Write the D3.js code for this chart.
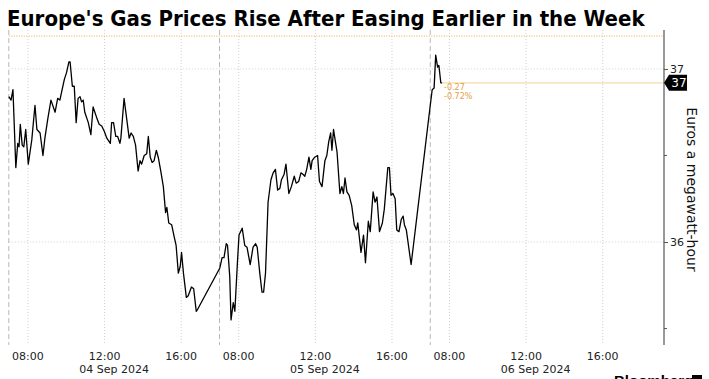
<!DOCTYPE html>
<html><head><meta charset="utf-8">
<script src="https://cdn.jsdelivr.net/npm/d3@7"></script>
<style>body{margin:0;background:#fff} svg{display:block}</style>
</head><body><svg id="c" width="709" height="379"></svg>
<script>
const title = "Europe's Gas Prices Rise After Easing Earlier in the Week";
const yTitle = "Euros a megawatt-hour";
const sessionDates = ["2024-09-04", "2024-09-05", "2024-09-06"];
const dateLabels = ["04 Sep 2024", "05 Sep 2024", "06 Sep 2024"];
const hourTicks = ["08:00", "12:00", "16:00"];
const yTicks = [36, 37];
const yMinorTicks = [35.5, 36.5];
const prevClose = 37.19;
const lastLabel = "37";
const changeLabels = ["-0.27", "-0.72%"];

const day1Times = ["07:00","07:07","07:13","07:22","07:28","07:32","07:36","07:42","07:47","07:53",
  "08:01","08:12","08:22","08:28","08:38","08:47","08:53","09:02","09:12","09:25",
  "09:33","09:40","09:47","09:54","10:01","10:08","10:12","10:19","10:25","10:31",
  "10:37","10:43","10:48","10:53","10:58","11:09","11:17","11:24","11:35","11:43",
  "11:51","11:59","12:07","12:18","12:22","12:28","12:35","12:41","12:48","12:51",
  "13:01","13:17","13:23","13:30","13:37","13:45","13:51","13:56","14:04","14:12",
  "14:17","14:23","14:29","14:35","14:42","14:48","14:56","15:04","15:11","15:15",
  "15:21","15:30","15:38","15:44","15:51","15:57","16:01","16:07","16:16","16:22",
  "16:32","16:39","16:47","16:51"];
const day1Prices = [36.84,36.82,36.88,36.43,36.57,36.55,36.68,36.56,36.55,36.65,
  36.45,36.59,36.79,36.65,36.63,36.50,36.60,36.71,36.82,36.75,
  36.83,36.82,36.88,36.94,36.98,37.04,37.04,36.90,36.90,36.69,
  36.83,36.84,36.81,36.82,36.75,36.69,36.62,36.78,36.72,36.68,
  36.67,36.64,36.60,36.57,36.69,36.69,36.61,36.61,36.57,36.60,
  36.83,36.60,36.63,36.61,36.56,36.41,36.47,36.45,36.50,36.51,
  36.61,36.49,36.46,36.47,36.53,36.49,36.41,36.32,36.17,36.20,
  36.11,36.10,36.03,35.98,35.82,35.86,35.94,35.82,35.68,35.69,
  35.74,35.73,35.60,35.61];

const day2Times = ["07:01","07:08","07:14","07:21","07:25","07:32","07:36","07:43","07:48","07:56",
  "08:01","08:11","08:19","08:26","08:36","08:45","08:53","08:58","09:06","09:13",
  "09:18","09:24","09:32","09:41","09:48","09:55","10:02","10:09","10:14","10:22",
  "10:28","10:37","10:45","10:54","11:00","11:08","11:15","11:22","11:27","11:33",
  "11:40","11:46","11:50","11:58","12:07","12:13","12:21","12:30","12:36","12:42",
  "12:48","12:52","12:57","13:02","13:08","13:17","13:23","13:28","13:33","13:39",
  "13:46","13:54","14:02","14:09","14:13","14:23","14:31","14:37","14:46","14:52",
  "15:01","15:07","15:13","15:21","15:30","15:36","15:47","15:52","15:57","16:03",
  "16:10","16:15","16:22","16:29","16:35","16:39","16:45","17:00"];
const day2Prices = [35.85,35.91,35.91,35.99,35.98,35.80,35.55,35.65,35.60,35.88,
  36.04,36.08,35.98,35.97,35.87,35.97,35.99,35.97,35.82,35.71,
  35.71,35.82,36.23,36.36,36.40,36.42,36.30,36.31,36.36,36.39,
  36.45,36.28,36.32,36.38,36.34,36.35,36.40,36.39,36.38,36.42,
  36.49,36.42,36.47,36.49,36.50,36.35,36.32,36.47,36.50,36.58,
  36.63,36.53,36.65,36.59,36.52,36.28,36.32,36.28,36.37,36.29,
  36.27,36.21,36.10,36.07,36.11,35.94,36.04,35.88,36.12,36.06,
  36.29,36.23,36.26,36.06,36.11,36.19,36.43,36.43,36.27,36.28,
  36.25,36.07,36.06,36.13,36.15,36.10,36.07,35.87];

const day3Times = ["07:00","07:06","07:12","07:17","07:23","07:27","07:33","07:37"];
const day3Prices = [36.79,36.88,36.89,37.08,37.01,37.02,36.92,36.92];

// trading session: 07:00 - 18:00 each day
const sessionOpen = 7, sessionLength = 11;
const hoursShown = 34.2;

function toT(dayIdx, hm) {
  const [h, m] = hm.split(":").map(Number);
  return dayIdx * sessionLength + (h + m / 60 - sessionOpen);
}

const series = [];
[[day1Times, day1Prices], [day2Times, day2Prices], [day3Times, day3Prices]].forEach(([ts, ps], d) => {
  ts.forEach((t, i) => series.push({ t: toT(d, t), v: ps[i] }));
});

const pLeft = 8.8, pRight = 664, pTop = 30, pBottom = 345;
const svg = d3.select("#c");

const x = d3.scaleLinear().domain([0, hoursShown]).range([pLeft, pRight]);
const y = d3.scaleLinear().domain([35.405, 37.225]).range([pBottom, pTop]);

const FONT = "'DejaVu Sans', Verdana, sans-serif";

// title
svg.append("text").attr("x", 7).attr("y", 26)
  .attr("font-family", "'Liberation Sans Narrow', 'DejaVu Sans Condensed', 'Roboto Condensed', sans-serif")
  .attr("font-stretch", "condensed")
  .attr("font-weight", "bold").attr("font-size", 22).attr("fill", "#000")
  .text(title);

// horizontal gridlines
svg.append("g").selectAll("line").data(yTicks).join("line")
  .attr("x1", pLeft).attr("x2", pRight).attr("y1", d => y(d)).attr("y2", d => y(d))
  .attr("stroke", "#d0d0d0").attr("stroke-dasharray", "1,2");

// vertical gridlines
const hourT = [];
sessionDates.forEach((_, d) => hourTicks.forEach(h => hourT.push({ t: toT(d, h), label: h })));
svg.append("g").selectAll("line").data(hourT).join("line")
  .attr("x1", d => x(d.t)).attr("x2", d => x(d.t)).attr("y1", pTop).attr("y2", pBottom)
  .attr("stroke", "#d0d0d0").attr("stroke-dasharray", "1,2");

const sessionStarts = sessionDates.map((_, d) => d * sessionLength);
svg.append("g").selectAll("line").data(sessionStarts).join("line")
  .attr("x1", d => x(d)).attr("x2", d => x(d)).attr("y1", pTop).attr("y2", pBottom)
  .attr("stroke", "#b8b8b8").attr("stroke-dasharray", "5,3");

// previous close line
svg.append("line").attr("x1", pLeft).attr("x2", pRight)
  .attr("y1", y(prevClose)).attr("y2", y(prevClose))
  .attr("stroke", "#efa840").attr("stroke-dasharray", "1,1.5").attr("stroke-width", 1);

// last price line
const last = series[series.length - 1];
svg.append("line").attr("x1", x(last.t)).attr("x2", pRight)
  .attr("y1", y(last.v)).attr("y2", y(last.v))
  .attr("stroke", "#f6dca8").attr("stroke-width", 1.2);

// price line
svg.append("path").datum(series)
  .attr("d", d3.line().x(d => x(d.t)).y(d => y(d.v)))
  .attr("fill", "none").attr("stroke", "#000").attr("stroke-width", 1.3)
  .attr("stroke-linejoin", "round");

// change annotations
svg.append("g").selectAll("text").data(changeLabels).join("text")
  .attr("x", x(last.t) + 2).attr("y", (d, i) => y(last.v) + 7 + i * 9.5)
  .attr("font-family", FONT).attr("font-size", 8).attr("fill", "#e3a13f")
  .text(d => d);

// right axis
const axis = d3.axisRight(y).tickValues(yTicks).tickSize(4).tickPadding(2).tickFormat(d3.format("d"));
const ag = svg.append("g").attr("transform", `translate(${pRight},0)`).call(axis);
ag.select(".domain").remove();
ag.selectAll("text").attr("font-family", FONT).attr("font-size", 11).attr("fill", "#222");
ag.selectAll("line").attr("stroke", "#555");
svg.append("line").attr("x1", pRight).attr("x2", pRight).attr("y1", pTop).attr("y2", pBottom)
  .attr("stroke", "#555").attr("stroke-width", 1.2);
svg.append("g").selectAll("line").data(yMinorTicks).join("line")
  .attr("x1", pRight).attr("x2", pRight + 3).attr("y1", d => y(d)).attr("y2", d => y(d))
  .attr("stroke", "#555");

// last value badge
const ly = y(last.v);
svg.append("path")
  .attr("d", `M${pRight},${ly} L${pRight + 5},${ly - 8} L${pRight + 23},${ly - 8} L${pRight + 23},${ly + 8} L${pRight + 5},${ly + 8} Z`)
  .attr("fill", "#000");
svg.append("text").attr("x", pRight + 15).attr("y", ly + 4.5).attr("text-anchor", "middle")
  .attr("font-family", FONT).attr("font-size", 12).attr("fill", "#fff").text(lastLabel);

// y title
svg.append("text").attr("transform", `translate(687,${(pTop + pBottom) / 2 + 2}) rotate(90)`)
  .attr("text-anchor", "middle").attr("font-family", FONT).attr("font-size", 14).attr("fill", "#111")
  .text(yTitle);

// x labels
svg.append("g").selectAll("text").data(hourT).join("text")
  .attr("x", d => x(d.t)).attr("y", 360).attr("text-anchor", "middle")
  .attr("font-family", FONT).attr("font-size", 11).attr("fill", "#222").text(d => d.label);
svg.append("g").selectAll("text").data(dateLabels).join("text")
  .attr("x", (d, i) => x(i * sessionLength + sessionLength / 2)).attr("y", 373).attr("text-anchor", "middle")
  .attr("font-family", FONT).attr("font-size", 11).attr("fill", "#222").text(d => d);

// watermark (cut off by the bottom edge, as in the reference)
svg.append("text").attr("x", 614).attr("y", 386).attr("font-family", "'Liberation Sans', Arial, sans-serif")
  .attr("font-weight", "bold").attr("font-size", 15).attr("fill", "#000").text("Bloomberg");
svg.append("rect").attr("x", 692).attr("y", 375).attr("width", 10).attr("height", 10).attr("fill", "#000");
</script></body></html>
